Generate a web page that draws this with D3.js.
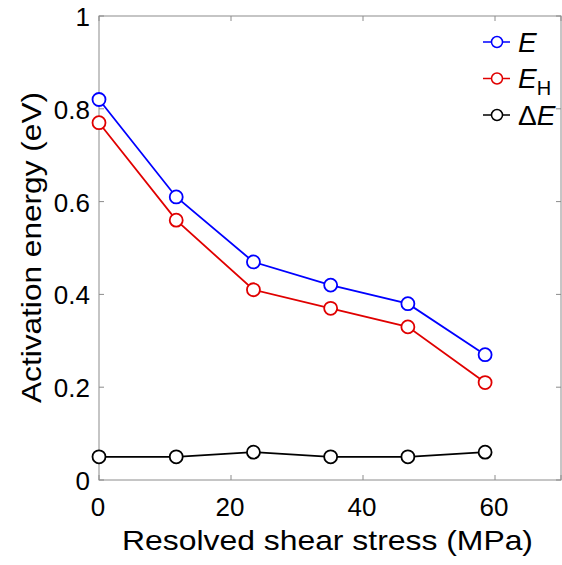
<!DOCTYPE html>
<html>
<head>
<meta charset="utf-8">
<script src="https://cdn.jsdelivr.net/npm/d3@7"></script>
<style>
  body { margin:0; background:#fff; }
  svg text { font-family: "Liberation Sans", Arial, sans-serif; }
</style>
</head>
<body>
<div id="chart"></div>
<script>
// data
var stress = [0, 11.7, 23.4, 35.1, 46.8, 58.5];
var eTotal = [0.82, 0.61, 0.47, 0.42, 0.38, 0.27];
var eH = [0.77, 0.56, 0.41, 0.37, 0.33, 0.21];
var dE = [0.05, 0.05, 0.06, 0.05, 0.05, 0.06];
var xTicks = [0, 20, 40, 60];
var yTicks = [0, 0.2, 0.4, 0.6, 0.8, 1];

var W = 562, H = 565;
var margin = { left:99, right:1, top:16, bottom:85 };
var w = W - margin.left - margin.right;
var h = H - margin.top - margin.bottom;

var svg = d3.select("#chart").append("svg")
    .attr("width", W).attr("height", H);

var g = svg.append("g")
    .attr("transform", "translate(" + margin.left + "," + margin.top + ")");

var x = d3.scaleLinear().domain([0, 70]).range([0, w]);
var y = d3.scaleLinear().domain([0, 1]).range([h, 0]);

var axisColor = "#8c8c8c";

// box
g.append("rect")
    .attr("x", 0).attr("y", 0).attr("width", w).attr("height", h)
    .attr("fill", "none").attr("stroke", axisColor).attr("stroke-width", 1);

// inward ticks on all four sides
var tl = 5;
[0, 20, 40, 60, 70].forEach(function(d){
    g.append("line").attr("x1", x(d)).attr("x2", x(d)).attr("y1", h).attr("y2", h - tl)
        .attr("stroke", axisColor);
    g.append("line").attr("x1", x(d)).attr("x2", x(d)).attr("y1", 0).attr("y2", tl)
        .attr("stroke", axisColor);
});
yTicks.forEach(function(d){
    g.append("line").attr("x1", 0).attr("x2", tl).attr("y1", y(d)).attr("y2", y(d))
        .attr("stroke", axisColor);
    g.append("line").attr("x1", w).attr("x2", w - tl).attr("y1", y(d)).attr("y2", y(d))
        .attr("stroke", axisColor);
});

// tick labels
g.selectAll(".xl").data(xTicks).enter().append("text")
    .attr("x", function(d){ return x(d) - 1; })
    .attr("y", h + 36)
    .attr("text-anchor", "middle")
    .attr("font-size", 26)
    .attr("fill", "#000")
    .text(function(d){ return d; });

g.selectAll(".yl").data(yTicks).enter().append("text")
    .attr("x", -9)
    .attr("y", function(d){ return y(d) + 10; })
    .attr("text-anchor", "end")
    .attr("font-size", 26)
    .attr("fill", "#000")
    .text(function(d){ return d; });

// axis labels
g.append("text")
    .attr("x", 122 - margin.left)
    .attr("y", 550 - margin.top)
    .attr("font-size", 28)
    .attr("textLength", 411)
    .attr("lengthAdjust", "spacingAndGlyphs")
    .text("Resolved shear stress (MPa)");

g.append("text")
    .attr("transform", "rotate(-90)")
    .attr("x", -(403 - margin.top))
    .attr("y", 41 - margin.left)
    .attr("font-size", 28)
    .attr("textLength", 311)
    .attr("lengthAdjust", "spacingAndGlyphs")
    .text("Activation energy (eV)");

var series = [
    { name:"E", values:eTotal, color:"#0000ff" },
    { name:"EH", values:eH, color:"#e00000" },
    { name:"dE", values:dE, color:"#000000" }
];

var line = d3.line()
    .x(function(d, i){ return x(stress[i]); })
    .y(function(d){ return y(d); });

series.forEach(function(s){
    g.append("path")
        .datum(s.values)
        .attr("d", line)
        .attr("fill", "none")
        .attr("stroke", s.color)
        .attr("stroke-width", 1.8);
    g.selectAll(null).data(s.values).enter().append("circle")
        .attr("cx", function(d, i){ return x(stress[i]); })
        .attr("cy", function(d){ return y(d); })
        .attr("r", 6.5)
        .attr("fill", "#fff")
        .attr("stroke", s.color)
        .attr("stroke-width", 1.8);
});

// legend
var leg = svg.append("g").attr("transform", "translate(483,42)");
series.forEach(function(s, i){
    var row = leg.append("g").attr("transform", "translate(0," + (i * 36.5) + ")");
    row.append("line").attr("x1", 0).attr("x2", 27).attr("y1", 0).attr("y2", 0)
        .attr("stroke", s.color).attr("stroke-width", 1.5);
    row.append("circle").attr("cx", 14).attr("cy", 0).attr("r", 5.5)
        .attr("fill", "#fff").attr("stroke", s.color).attr("stroke-width", 1.5);
    var t = row.append("text").attr("x", 35).attr("y", 9.5).attr("font-size", 28);
    if (s.name === "E") {
        t.append("tspan").attr("font-style", "italic").text("E");
    } else if (s.name === "EH") {
        t.append("tspan").attr("font-style", "italic").text("E");
        t.append("tspan").attr("font-size", 20).attr("dy", 7).text("H");
    } else {
        t.append("tspan").text("\u0394");
        t.append("tspan").attr("font-style", "italic").text("E");
    }
});
</script>
</body>
</html>
